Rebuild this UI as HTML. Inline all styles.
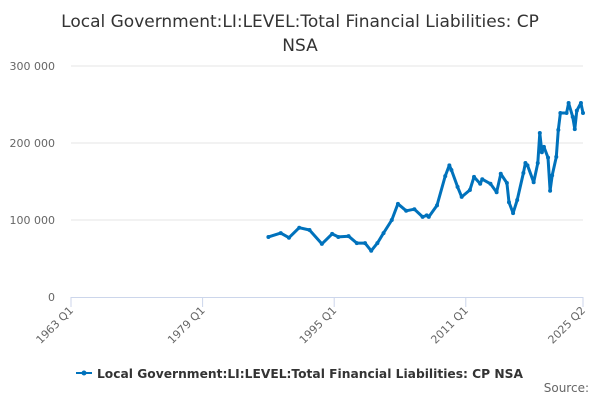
<!DOCTYPE html>
<html><head><meta charset="utf-8"><style>
body{margin:0;background:#fff;font-family:"Liberation Sans","DejaVu Sans",sans-serif}
svg text{font-family:"DejaVu Sans","Liberation Sans",sans-serif}
</style></head><body>
<svg id="chart" width="600" height="400" viewBox="0 0 600 400" xmlns="http://www.w3.org/2000/svg">
<text x="300" y="27" text-anchor="middle" font-size="17" fill="#333">Local Government:LI:LEVEL:Total Financial Liabilities: CP</text>
<text x="300" y="51" text-anchor="middle" font-size="17" fill="#333">NSA</text>
<g id="grid"></g><g id="xaxis"></g><g id="series"></g>
<g>
<line x1="76" y1="373" x2="92" y2="373" stroke="#0072bc" stroke-width="2"/>
<circle cx="84" cy="373" r="2.5" fill="#0072bc"/>
<text x="97" y="378" font-size="12" font-weight="bold" fill="#333" textLength="426" lengthAdjust="spacingAndGlyphs">Local Government:LI:LEVEL:Total Financial Liabilities: CP NSA</text>
</g>
<text x="589" y="392" text-anchor="end" font-size="12" fill="#666">Source:</text>
</svg>
<script>
const yTicks=[0,100000,200000,300000];
const yTickLabels=["0","100 000","200 000","300 000"];
const xTickLabels=["1963 Q1","1979 Q1","1995 Q1","2011 Q1","2025 Q2"];
const quarters=["1987 Q1","1988 Q3","1989 Q3","1990 Q4","1992 Q1","1993 Q3","1994 Q4","1995 Q3","1996 Q4","1997 Q4","1998 Q4","1999 Q3","2000 Q2","2001 Q1","2002 Q1","2002 Q4","2003 Q4","2004 Q4","2005 Q4","2006 Q2","2006 Q3","2007 Q3","2008 Q3","2009 Q1","2009 Q2","2010 Q1","2010 Q3","2011 Q3","2012 Q1","2012 Q4","2013 Q1","2014 Q1","2014 Q4","2015 Q2","2016 Q1","2016 Q2","2016 Q4","2017 Q2","2018 Q1","2018 Q2","2018 Q3","2019 Q2","2019 Q4","2020 Q1","2020 Q2","2020 Q3","2021 Q1","2021 Q2","2021 Q3","2022 Q1","2022 Q2","2022 Q3","2023 Q2","2023 Q3","2024 Q1","2024 Q2","2024 Q3","2025 Q1","2025 Q2"];
const values=[78000,83000,77000,90000,87000,69000,82000,78000,79000,70000,70000,60000,70000,83000,100000,121000,112000,114000,104000,106000,104000,119000,157000,171000,165000,143000,130000,139000,156000,147000,153000,147000,136000,160000,148000,123000,109000,126000,161000,174000,171000,149000,174000,213000,188000,195000,181000,138000,158000,182000,217000,239000,239000,252000,234000,218000,242000,252000,239000];
const NS="http://www.w3.org/2000/svg";
const x0=71,x1=583,yBase=297,pxPer=77/100000;
function q(s){const p=s.split(" Q");return +p[0]+(+p[1]-1)/4;}
const qmin=q("1963 Q1"),qmax=q("2025 Q2");
function X(s){return x0+(q(s)-qmin)/(qmax-qmin)*(x1-x0);}
function Y(v){return yBase-v*pxPer;}
function mk(t,a,p){const e=document.createElementNS(NS,t);for(const k in a)e.setAttribute(k,a[k]);p.appendChild(e);return e;}
const grid=document.getElementById('grid');
yTicks.forEach((v,i)=>{
 if(v>0){const l=mk('line',{x1:x0,x2:x1,y1:Y(v),y2:Y(v),stroke:'#e6e6e6','stroke-width':1},grid);
 
 }
 const t=mk('text',{x:55,y:Y(v)+4,'text-anchor':'end','font-size':11,fill:'#666'},grid);
 t.textContent=yTickLabels[i];
 
 
});
const xa=document.getElementById('xaxis');
const ax=mk('line',{x1:x0,x2:x1,y1:yBase+0.5,y2:yBase+0.5,stroke:'#ccd6eb'},xa);


xTickLabels.forEach(s=>{
 const x=X(s);
 const tk=mk('line',{x1:x,x2:x,y1:yBase,y2:yBase+10,stroke:'#ccd6eb'},xa);
 
 
 const t=mk('text',{x:x+3,y:yBase+14,'text-anchor':'end','font-size':11,fill:'#666',transform:`rotate(-45 ${x+3} ${yBase+14})`},xa);
 t.textContent=s;
 
 
});
const sg=document.getElementById('series');
const pts=quarters.map((s,i)=>X(s).toFixed(1)+','+Y(values[i]).toFixed(1)).join(' ');
const pl=mk('polyline',{points:pts,fill:'none',stroke:'#0072bc','stroke-width':3,'stroke-linejoin':'round'},sg);


quarters.forEach((s,i)=>{
 const c=mk('circle',{cx:X(s),cy:Y(values[i]),r:2,fill:'#0072bc'},sg);
 
 
});
</script>
</body></html>
